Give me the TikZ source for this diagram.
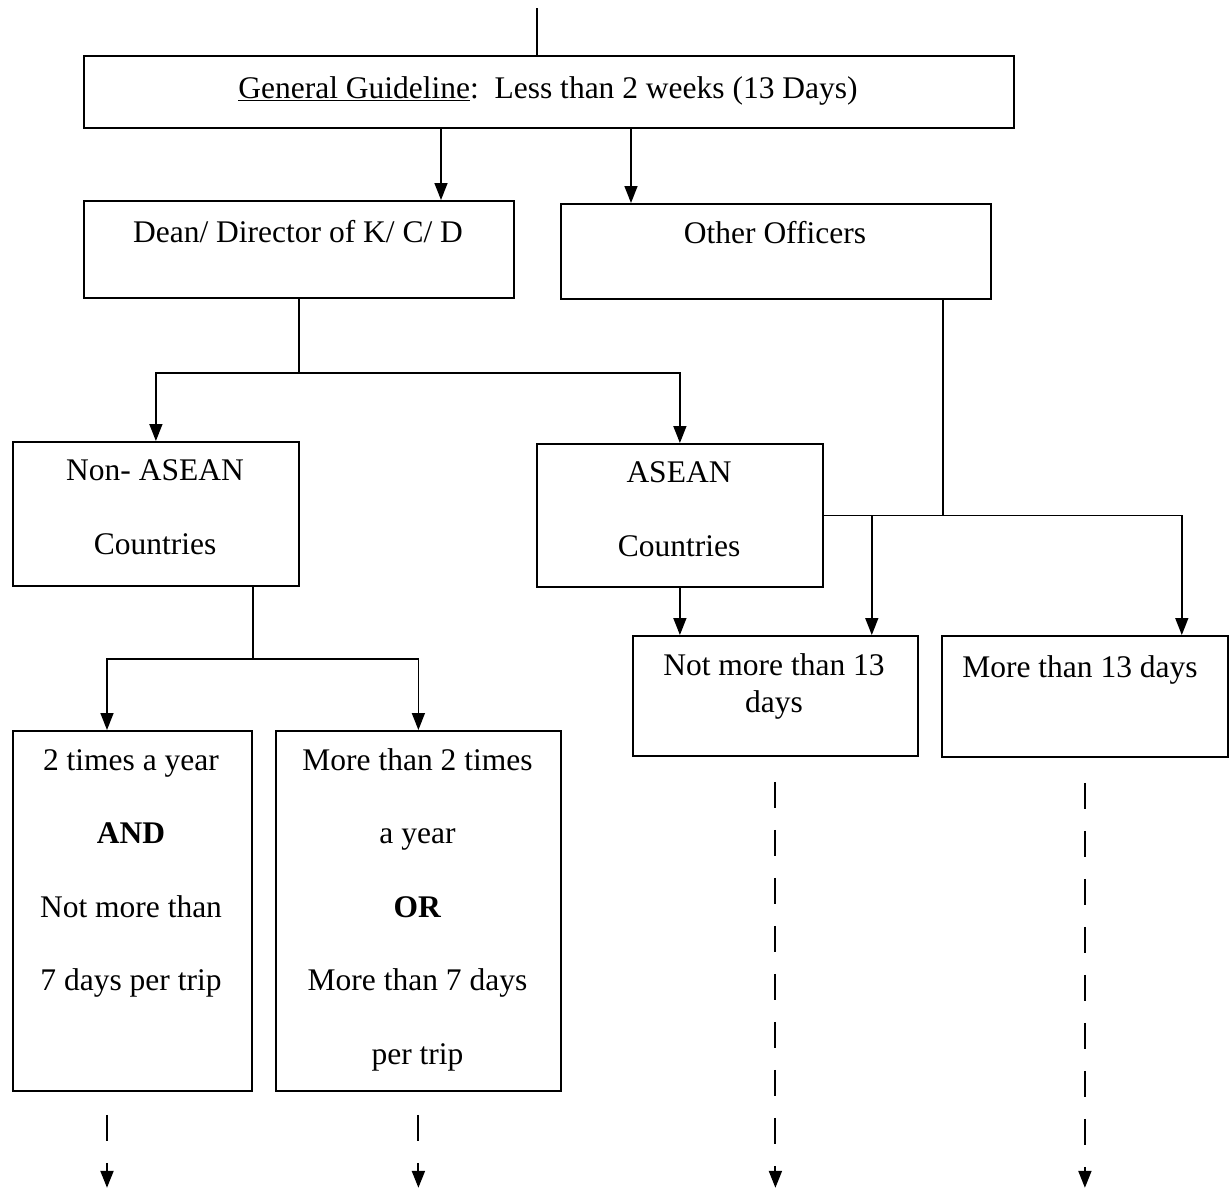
\documentclass[tikz,border=0pt]{standalone}
\usepackage{fontspec}
\setmainfont{Liberation Serif}
\usetikzlibrary{arrows.meta}
\begin{document}
\begin{tikzpicture}[x=1pt,y=-1pt,
  box/.style={draw, line width=1.8pt, rectangle, inner sep=0pt, anchor=north west},
  txt/.style={inner sep=0pt, anchor=base, font=\fontsize{31.5}{36}\selectfont},
  con/.style={line width=1.5pt},
  arr/.style={con, -{Triangle[length=17pt,width=13pt]}},
  darr/.style={arr, line width=2pt, dash pattern=on 26pt off 22pt}]
\useasboundingbox (0,0) rectangle (1231,1192);
% boxes
\node[box, minimum width=930pt, minimum height=72pt] (gg) at (83,55) {};
\node[box, minimum width=430pt, minimum height=97pt] (dean) at (83,200) {};
\node[box, minimum width=430pt, minimum height=95pt] (other) at (560,203) {};
\node[box, minimum width=286pt, minimum height=144pt] (nonasean) at (12,441) {};
\node[box, minimum width=286pt, minimum height=143pt] (asean) at (536,443) {};
\node[box, minimum width=285pt, minimum height=120pt] (nm13) at (632,635) {};
\node[box, minimum width=286pt, minimum height=121pt] (m13) at (941,635) {};
\node[box, minimum width=239pt, minimum height=360pt] (t2) at (12,730) {};
\node[box, minimum width=285pt, minimum height=360pt] (mt2) at (275,730) {};
% texts
\node[txt] (ggt) at (548,98) {\underline{General Guideline}:\ \ Less than 2 weeks (13 Days)};
\node[txt] (deant) at (298,242) {Dean/ Director of K/ C/ D};
\node[txt] (othert) at (775,243) {Other Officers};
\node[txt] (na1) at (155,480) {Non- ASEAN};
\node[txt] (na2) at (155,554) {Countries};
\node[txt] (as1) at (679,482) {ASEAN};
\node[txt] (as2) at (679,556) {Countries};
\node[txt] (n1) at (774,675) {Not more than 13};
\node[txt] (n2) at (774,712) {days};
\node[txt] (m1) at (1080,677) {More than 13 days};
\node[txt] (t1) at (131,770) {2 times a year};
\node[txt] (t2l) at (131,843) {\textbf{AND}};
\node[txt] (t3) at (131,917) {Not more than};
\node[txt] (t4) at (131,990) {7 days per trip};
\node[txt] (u1) at (417.5,770) {More than 2 times};
\node[txt] (u2) at (417.5,843) {a year};
\node[txt] (u3) at (417.5,917) {\textbf{OR}};
\node[txt] (u4) at (417.5,990) {More than 7 days};
\node[txt] (u5) at (417.5,1064) {per trip};
% connectors
\coordinate (top) at (537,8);
\draw[con] (top) -- (top |- gg.north);
\coordinate (d1) at ([xshift=358pt]dean.north west);
\draw[arr] (gg.south -| d1) -- (d1);
\coordinate (o1) at ([xshift=71pt]other.north west);
\draw[arr] (gg.south -| o1) -- (o1);
\coordinate (j1) at ([yshift=-74pt]dean.south);
\draw[con] (dean.south) -- (j1);
\draw[arr] (j1) -| (nonasean.north);
\draw[arr] (j1) -| (asean.north);
\coordinate (o2) at ([xshift=-49pt]other.south east);
\coordinate (n13a) at ([xshift=-47pt]nm13.north east);
\coordinate (m13a) at ([xshift=-47pt]m13.north east);
\draw[con] (o2) -- (o2 |- asean.east);
\draw[con] (asean.east) -- (asean.east -| m13a);
\draw[arr] (asean.east -| n13a) -- (n13a);
\draw[arr] (asean.east -| m13a) -- (m13a);
\draw[arr] (asean.south) -- (asean.south |- nm13.north);
\coordinate (na) at ([xshift=-47pt]nonasean.south east);
\coordinate (j3) at ([yshift=-72pt]na);
\coordinate (t2a) at ([xshift=95pt]t2.north west);
\draw[con] (na) -- (j3);
\draw[arr] (j3) -| (t2a);
\draw[arr] (j3) -| (mt2.north);
% dashed continuation arrows
\coordinate (e1a) at ([xshift=95pt,yshift=-23pt]t2.south west);
\coordinate (e1b) at ([xshift=95pt,yshift=-96pt]t2.south west);
\draw[darr] (e1a) -- (e1b);
\coordinate (e2a) at ([yshift=-23pt]mt2.south);
\coordinate (e2b) at ([yshift=-96pt]mt2.south);
\draw[darr] (e2a) -- (e2b);
\coordinate (e3a) at ([yshift=-25pt]nm13.south);
\coordinate (e3b) at ([yshift=-431pt]nm13.south);
\draw[darr] (e3a) -- (e3b);
\coordinate (e4a) at ([yshift=-25pt]m13.south);
\coordinate (e4b) at ([yshift=-430pt]m13.south);
\draw[darr] (e4a) -- (e4b);
\end{tikzpicture}
\end{document}
